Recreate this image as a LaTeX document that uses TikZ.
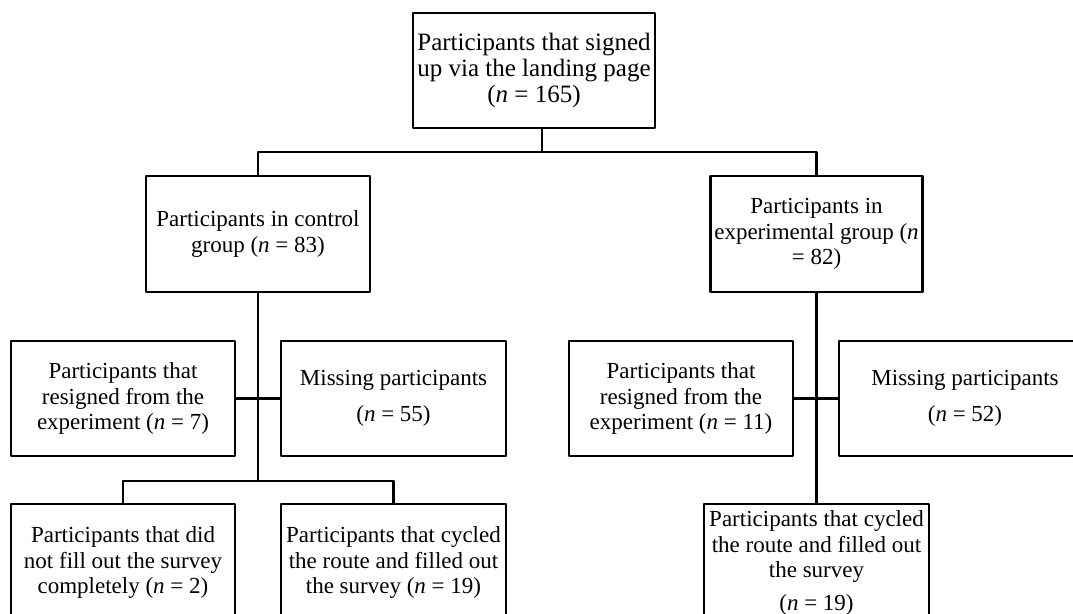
\documentclass[tikz,border=0pt]{standalone}
\usepackage{fontspec}
\setmainfont{Liberation Serif}
\usetikzlibrary{arrows.meta}
\usetikzlibrary{shapes}

\begin{document}
\begin{tikzpicture}[>=latex,line join=bevel,line width=2.3bp,
  box/.style={draw,rectangle,align=center,inner sep=0pt,minimum width=224bp,minimum height=116bp,
    font=\fontsize{23bp}{25.5bp}\selectfont},]
%%
\useasboundingbox (0bp,0bp) rectangle (1073bp,614bp);
\clip (0bp,0bp) rectangle (1073bp,614bp);
\node (node_0) at (534bp,543.5bp) [box,minimum width=242bp,minimum height=115bp,font=\fontsize{25bp}{26bp}\selectfont] {Participants that signed\\up via the landing page\\(\textit{n} = 165)};
  \node (node_1) at (258bp,380bp) [box] {Participants in control\\group (\textit{n} = 83)};
  \node (node_2) at (816.5bp,380bp) [box,minimum width=212bp] {Participants in\\experimental group (\textit{n}\\= 82)};
  \node (node_3) at (123bp,215.5bp) [box,minimum height=115bp] {Participants that\\resigned from the\\experiment (\textit{n} = 7)};
  \node (node_4) at (393.5bp,215.5bp) [box,minimum width=225bp,minimum height=115bp] {Missing participants\\[10.5bp](\textit{n} = 55)};
  \node (node_5) at (681bp,215.5bp) [box,minimum height=115bp] {Participants that\\resigned from the\\experiment (\textit{n} = 11)};
  \node (node_6) at (965bp,215.5bp) [box,minimum width=252bp,minimum height=115bp] {Missing participants\\[10.5bp](\textit{n} = 52)};
  \node (node_7) at (123bp,51bp) [box,minimum height=118bp] {Participants that did\\not fill out the survey\\completely (\textit{n} = 2)};
  \node (node_8) at (393.5bp,51bp) [box,minimum width=225bp,minimum height=118bp] {Participants that cycled\\the route and filled out\\the survey (\textit{n} = 19)};
  \node (node_9) at (816.5bp,51bp) [box,minimum width=225bp,minimum height=118bp] {Participants that cycled\\the route and filled out\\the survey\\[7.5bp](\textit{n} = 19)};
  \coordinate (split_0) at (542bp,462bp);
  \coordinate (split_1) at (258bp,133bp);
  \draw [black] (split_0 |- node_0.south) -- (split_0);
  \draw [black] (node_1.north) |- (split_0) -| (node_2.north);
  \draw [black] (node_1.south) -- (split_1);
  \draw [black] (node_3.east) -- (node_4.west);
  \draw [black] (node_7.north) |- (split_1) -| (node_8.north);
  \draw [black] (node_2.south) -- (node_9.north);
  \draw [black] (node_5.east) -- (node_6.west);
%
\end{tikzpicture}
\end{document}
